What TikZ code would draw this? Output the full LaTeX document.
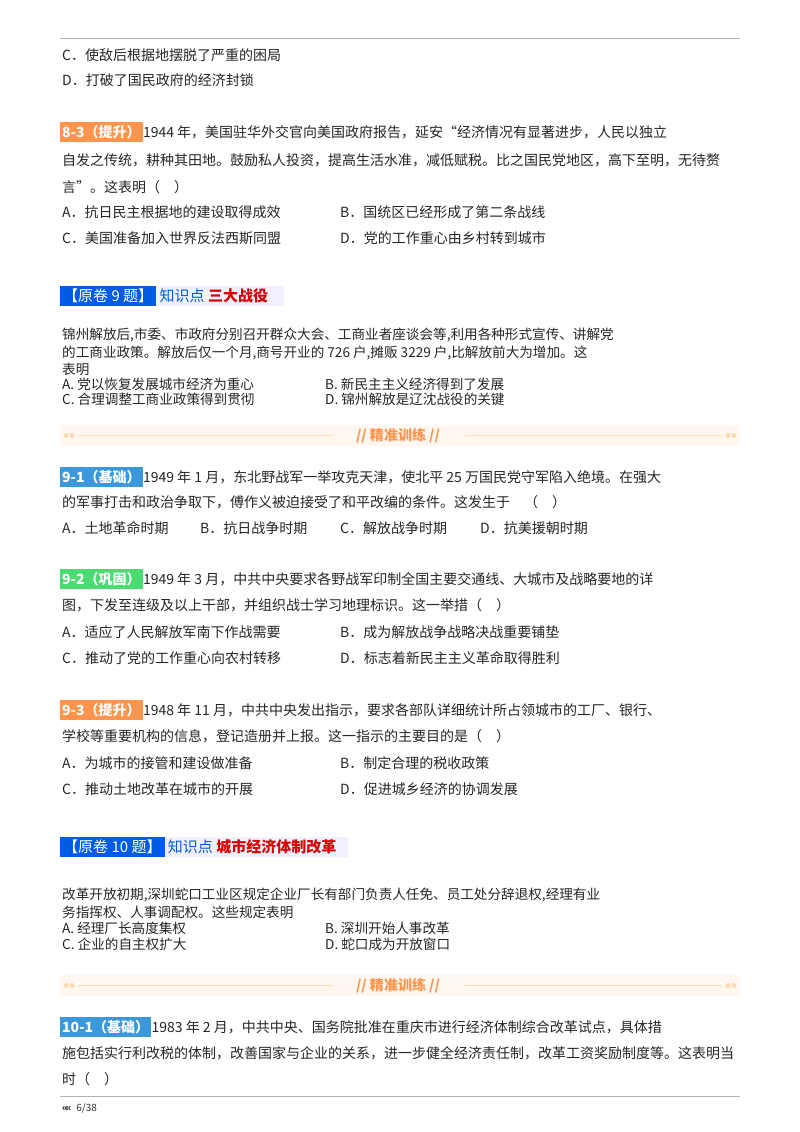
\documentclass[tikz,border=0pt]{standalone}
\usepackage{fontspec}
\setmainfont{Noto Sans CJK SC}
\begin{document}
\begin{tikzpicture}[x=1pt,y=-1pt,
 tx/.style={anchor=west,inner sep=0pt,font=\fontsize{14}{14}\selectfont,text=black!85},
 sx/.style={anchor=west,inner sep=0pt,font=\fontsize{13.6}{13.6}\selectfont,text=black!85},
 lab/.style={anchor=west,inner sep=2pt,minimum height=20pt,text=white,font=\fontsize{14}{14}\selectfont\bfseries},
 hd/.style={anchor=west,fill=blue!60!cyan!90!black,text=white,inner sep=3pt,minimum height=20pt,font=\fontsize{15}{15}\selectfont},
 kd/.style={anchor=west,inner sep=3pt,font=\fontsize{15}{15}\selectfont,text=blue!60!cyan!90!black},
 ban/.style={fill=orange!6,draw=none},
 bl/.style={draw=orange!30,line width=1.2pt}]
\useasboundingbox (0,0) rectangle (800,1132);
\fill[white] (0,0) rectangle (800,1132);
\draw[gray!60] (60,38) -- (740,38);
\node[tx] (c8) at (62,55) {C．使敌后根据地摆脱了严重的困局};
\node[tx] (d8) at (62,80) {D．打破了国民政府的经济封锁};
% 8-3
\node[lab,fill=orange!80!red!70] (l83) at (60,132) {8-3（提升）};
\node[tx] at (l83.east) {1944 年，美国驻华外交官向美国政府报告，延安“经济情况有显著进步，人民以独立};
\node[tx] at (62,160) {自发之传统，耕种其田地。鼓励私人投资，提高生活水准，减低赋税。比之国民党地区，高下至明，无待赘};
\node[tx] at (62,187) {言”。这表明（\quad）};
\node[tx] at (62,212) {A．抗日民主根据地的建设取得成效};
\node[tx] at (340,212) {B．国统区已经形成了第二条战线};
\node[tx] at (62,238) {C．美国准备加入世界反法西斯同盟};
\node[tx] at (340,238) {D．党的工作重心由乡村转到城市};
% 原卷9
\fill[blue!6] (60,286) rectangle (284,306);
\node[hd] (y9) at (60,296) {【原卷 9 题】};
\node[kd] (k9) at (y9.east) {知识点 \textcolor{red!85!black}{\bfseries 三大战役}};
\node[sx] at (62,335) {锦州解放后,市委、市政府分别召开群众大会、工商业者座谈会等,利用各种形式宣传、讲解党};
\node[sx] at (62,353) {的工商业政策。解放后仅一个月,商号开业的 726 户,摊贩 3229 户,比解放前大为增加。这};
\node[sx] at (62,369) {表明};
\node[sx] at (62,384) {A. 党以恢复发展城市经济为重心};
\node[sx] at (325,384) {B. 新民主主义经济得到了发展};
\node[sx] at (62,399) {C. 合理调整工商业政策得到贯彻};
\node[sx] at (325,399) {D. 锦州解放是辽沈战役的关键};
% banner 1
\fill[ban] (60,425) rectangle (740,446);
\draw[bl] (78,435.5) -- (332,435.5); \draw[bl] (465,435.5) -- (722,435.5);
\foreach \x in {66,72,728,734}{\fill[orange!30] (\x,435.5) circle (2.5);}
\node[font=\fontsize{14}{14}\selectfont\bfseries,text=orange!80!red!70] (b1) at (398,435.5) {\textit{//} 精准训练 \textit{//}};
% 9-1
\node[lab,fill=cyan!70!blue!80] (l91) at (60,477) {9-1（基础）};
\node[tx] at (l91.east) {1949 年 1 月，东北野战军一举攻克天津，使北平 25 万国民党守军陷入绝境。在强大};
\node[tx] at (62,502) {的军事打击和政治争取下，傅作义被迫接受了和平改编的条件。这发生于\quad（\quad）};
\node[tx] at (62,528) {A．土地革命时期};
\node[tx] at (200,528) {B．抗日战争时期};
\node[tx] at (340,528) {C．解放战争时期};
\node[tx] at (480,528) {D．抗美援朝时期};
% 9-2
\node[lab,fill=green!60!teal!70] (l92) at (60,579) {9-2（巩固）};
\node[tx] at (l92.east) {1949 年 3 月，中共中央要求各野战军印制全国主要交通线、大城市及战略要地的详};
\node[tx] at (62,605) {图，下发至连级及以上干部，并组织战士学习地理标识。这一举措（\quad）};
\node[tx] at (62,632) {A．适应了人民解放军南下作战需要};
\node[tx] at (340,632) {B．成为解放战争战略决战重要铺垫};
\node[tx] at (62,658) {C．推动了党的工作重心向农村转移};
\node[tx] at (340,658) {D．标志着新民主主义革命取得胜利};
% 9-3
\node[lab,fill=orange!80!red!70] (l93) at (60,710) {9-3（提升）};
\node[tx] at (l93.east) {1948 年 11 月，中共中央发出指示，要求各部队详细统计所占领城市的工厂、银行、};
\node[tx] at (62,736) {学校等重要机构的信息，登记造册并上报。这一指示的主要目的是（\quad）};
\node[tx] at (62,763) {A．为城市的接管和建设做准备};
\node[tx] at (340,763) {B．制定合理的税收政策};
\node[tx] at (62,789) {C．推动土地改革在城市的开展};
\node[tx] at (340,789) {D．促进城乡经济的协调发展};
% 原卷10
\fill[blue!6] (60,837) rectangle (348,857);
\node[hd] (y10) at (60,847) {【原卷 10 题】};
\node[kd] (k10) at (y10.east) {知识点 \textcolor{red!85!black}{\bfseries 城市经济体制改革}};
\node[sx] at (62,895) {改革开放初期,深圳蛇口工业区规定企业厂长有部门负责人任免、员工处分辞退权,经理有业};
\node[sx] at (62,912) {务指挥权、人事调配权。这些规定表明};
\node[sx] at (62,928) {A. 经理厂长高度集权};
\node[sx] at (325,928) {B. 深圳开始人事改革};
\node[sx] at (62,944) {C. 企业的自主权扩大};
\node[sx] at (325,944) {D. 蛇口成为开放窗口};
% banner 2
\fill[ban] (60,975) rectangle (740,996);
\draw[bl] (78,985.5) -- (332,985.5); \draw[bl] (465,985.5) -- (722,985.5);
\foreach \x in {66,72,728,734}{\fill[orange!30] (\x,985.5) circle (2.5);}
\node[font=\fontsize{14}{14}\selectfont\bfseries,text=orange!80!red!70] (b2) at (398,985.5) {\textit{//} 精准训练 \textit{//}};
% 10-1
\node[lab,fill=cyan!70!blue!80] (l101) at (60,1027) {10-1（基础）};
\node[tx] at (l101.east) {1983 年 2 月，中共中央、国务院批准在重庆市进行经济体制综合改革试点，具体措};
\node[tx] at (62,1053) {施包括实行利改税的体制，改善国家与企业的关系，进一步健全经济责任制，改革工资奖励制度等。这表明当};
\node[tx] at (62,1079) {时（\quad）};
\draw[gray!60,line width=1pt] (60,1096) -- (740,1096);
\node[anchor=west,inner sep=0pt,font=\fontsize{10}{10}\selectfont,text=black!80] (pg) at (62,1108) {\textbf{«}\kern-2pt\textbf{«}\enspace 6/38};
\end{tikzpicture}
\end{document}
